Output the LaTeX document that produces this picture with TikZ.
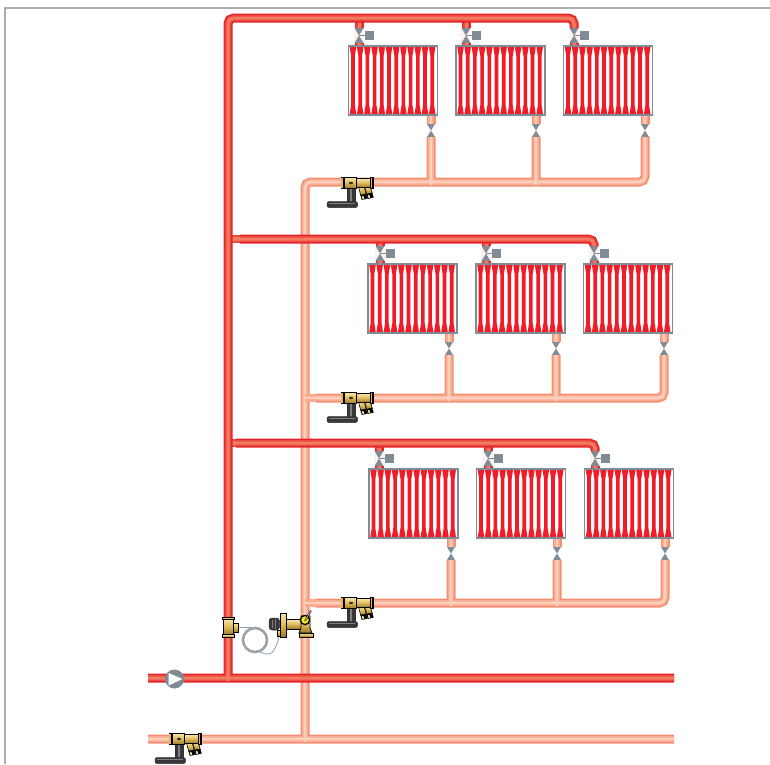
\documentclass[tikz,border=0pt]{standalone}
\usetikzlibrary{calc}
\definecolor{hotA}{HTML}{E5232B}
\definecolor{hotB}{HTML}{EC4A3E}
\definecolor{hotC}{HTML}{F27C62}
\definecolor{retA}{HTML}{F58D70}
\definecolor{retB}{HTML}{FAAC91}
\definecolor{retC}{HTML}{FDD0BD}
\definecolor{steel}{HTML}{7F8C96}
\definecolor{radred}{HTML}{F01C28}
\definecolor{radpink}{HTML}{FDE4E4}
\definecolor{brass}{HTML}{DDB85C}
\definecolor{brassD}{HTML}{9A7828}
\definecolor{brassL}{HTML}{F8E7A8}
\definecolor{inkdark}{HTML}{38383C}
\definecolor{framegray}{HTML}{ADADAD}
\tikzset{
  pipeshape/.style={line cap=butt,rounded corners=5.5pt},
  hotouter/.style={pipeshape,draw=hotA,line width=9pt},
  hotmid/.style={pipeshape,draw=hotB,line width=6pt},
  hotinner/.style={pipeshape,draw=hotC,line width=3pt},
  retouter/.style={pipeshape,draw=retA,line width=9pt},
  retmid/.style={pipeshape,draw=retB,line width=6pt},
  retinner/.style={pipeshape,draw=retC,line width=2.8pt},
  radbox/.style={draw=steel,line width=1.6pt,fill=white,inner sep=0pt,outer sep=0pt,minimum width=89pt,minimum height=69pt,anchor=north west},
  valvetri/.style={fill=steel,draw=none},
  brassbody/.style={top color=brassL,bottom color=brassD,middle color=brass,draw=black,line width=.8pt},
  darkbody/.style={fill=inkdark,draw=black!80,line width=.5pt},
  capillary/.style={draw=steel!85,line width=.8pt},
  framerule/.style={draw=framegray,line width=1.1pt},
}
\newcommand{\hotrun}[1]{\draw[hotouter] #1;\draw[hotmid] #1;\draw[hotinner] #1;}
\newcommand{\retrun}[1]{\draw[retouter] #1;\draw[retmid] #1;\draw[retinner] #1;}
% name, left, top, supply valve x, return valve x, supply y
\newcommand{\radiator}[6]{
  \coordinate (#1vt) at (#4,#3-18);
  \coordinate (#1vm) at (#4,#3-10.5);
  \coordinate (#1vb) at (#4,#3-3);
  \coordinate (#1st) at (#4,#6);
  \coordinate (#1ra) at (#5,#3+69);
  \coordinate (#1rb) at (#5,#3+78);
  \coordinate (#1rc) at (#5,#3+85);
  \coordinate (#1bt) at (#5,#3+91);
  \fill[red!6] (#4-5.2,#3-18) rectangle (#4+5.2,#3-2);
  \hotrun{(#1st) -- (#1vt)}
  \hotrun{(#1vb) -- (#4,#3)}
  \fill[valvetri] (#4-4.4,#3-18) -- (#4+4.4,#3-18) -- (#1vm) -- cycle;
  \fill[valvetri] (#4-4.4,#3-3) -- (#4+4.4,#3-3) -- (#1vm) -- cycle;
  \node[fill=steel,minimum size=9pt,inner sep=0pt,outer sep=0pt] (#1act) at (#4+10.5,#3-10.5) {};
  \draw[steel,line width=.9pt] (#1vm) -- (#1act);
  \retrun{(#1ra) -- (#1rb)}
  \fill[valvetri] (#5-4,#3+78) -- (#5+4,#3+78) -- (#5,#3+84.5) -- cycle;
  \fill[valvetri] (#5-4,#3+91) -- (#5+4,#3+91) -- (#5,#3+84.5) -- cycle;
  \node[radbox] (#1) at (#2,#3) {};
  \foreach \i in {0,...,11}{
    \pgfmathsetmacro{\cx}{#2+4.5+7.2*\i}
    \fill[radred] (\cx-3.2,#3+1) -- (\cx+3.2,#3+1) -- (\cx+2.8,#3+4) -- (\cx+1.8,#3+10)
      -- (\cx+1.8,#3+59) -- (\cx+2.8,#3+65) -- (\cx+3.2,#3+68) -- (\cx-3.2,#3+68)
      -- (\cx-2.8,#3+65) -- (\cx-1.8,#3+59) -- (\cx-1.8,#3+10) -- (\cx-2.8,#3+4) -- cycle;
  }
  \draw[steel,line width=1.6pt] (#2,#3) rectangle (#2+89,#3+69);
}
% balancing valve centred on a return pipe
\newcommand{\balvalve}[2]{
  \begin{scope}[shift={(#1,#2)}]
    \draw[darkbody] (-10,4) rectangle (-1.5,21);
    \fill[black!50] (-7.5,6) rectangle (-5,19);
    \draw[darkbody,rounded corners=2pt] (-30,18.5) rectangle (0.5,24.5);
    \fill[black!50] (-28,20) rectangle (-2,21.2);
    \foreach \dx/\dy in {1.5/4,7.5/3}{
      \draw[brassbody,line width=.6pt] (\dx,\dy) -- ++(5.5,-1) -- ++(2.2,8) -- ++(-5.5,1.3) -- cycle;
      \draw[fill=black,line width=.3pt] (\dx+2.2,\dy+8.3) -- ++(5.5,-1.3) -- ++(1.2,4.4) -- ++(-5.5,1.3) -- cycle;
      \fill[brassL] (\dx+3.4,\dy+9.3) -- ++(1.5,-.4) -- ++(.8,3) -- ++(-1.5,.4) -- cycle;
    }
    \draw[brassbody] (-1,-4.5) rectangle (13,4.5);
    \draw[brassbody] (-13,-5.5) rectangle (-0.5,5.5);
    \fill[black] (-16.5,-6) rectangle (-13,6);
    \fill[brass] (-15.7,-5) rectangle (-14.3,5);
    \fill[black] (12.5,-6) rectangle (16.5,6);
    \fill[brass] (13.8,-5) rectangle (15.3,5);
    \draw[black,line width=.9pt] (-1,-5.5) -- (-1,5.5);
    \fill[black!80] (-6,0) ellipse (2 and 1.3);
  \end{scope}
}
\begin{document}
\begin{tikzpicture}[x=1pt,y=-1pt]
\useasboundingbox (0,0) rectangle (770,764);
\coordinate (frameL) at (5,764);
\coordinate (frameC) at (5,8);
\coordinate (frameR) at (770,8);
\draw[framerule] (frameL) -- (frameC) -- (frameR);
% radiators
\radiator{aa}{348.5}{46}{359}{431}{18}
\radiator{ab}{456}{46}{466}{536}{18}
\radiator{ac}{563.5}{46}{574}{645}{28}
\radiator{ba}{368}{264}{380}{449}{239}
\radiator{bb}{476}{264}{486}{556}{239}
\radiator{bc}{583.5}{264}{594}{664}{246}
\radiator{ca}{369}{469}{379}{451}{443}
\radiator{cb}{476.5}{469}{488}{557}{443}
\radiator{cc}{584.5}{469}{595}{665}{451}
% key points
\coordinate (hotW) at (148,678);
\coordinate (hotE) at (674,678);
\coordinate (retW) at (148,739);
\coordinate (retE) at (674,739);
\coordinate (hotfoot) at (228,681);
\coordinate (hottop) at (228,18);
\coordinate (rtop) at (305,182);
\coordinate (rfoot) at (305,742);
\coordinate (rtwo) at (316,398);
\coordinate (rtwoJ) at (305,398);
\coordinate (rthree) at (316,603);
\coordinate (rthreeJ) at (305,603);
\coordinate (htwo) at (240,239);
\coordinate (htwoJ) at (228,239);
\coordinate (hthree) at (236,443);
\coordinate (hthreeJ) at (228,443);
% return network
\retrun{(retW) -- (retE)
  (rfoot) -- (rtop) -- (acbt |- rtop) -- (acbt)
  (aabt) -- ($(aabt |- rtop)+(0,3)$)
  (abbt) -- ($(abbt |- rtop)+(0,3)$)
  (rtwo) -- (bcbt |- rtwo) -- (bcbt)
  (babt) -- ($(babt |- rtwo)+(0,3)$)
  (bbbt) -- ($(bbbt |- rtwo)+(0,3)$)
  (rthree) -- (ccbt |- rthree) -- (ccbt)
  (cabt) -- ($(cabt |- rthree)+(0,3)$)
  (cbbt) -- ($(cbbt |- rthree)+(0,3)$)}
\draw[retmid,line width=8pt] (rtwoJ) -- (rtwo);
\draw[retinner] (rtwoJ) -- (rtwo);
\draw[retmid,line width=8pt] (rthreeJ) -- (rthree);
\draw[retinner] (rthreeJ) -- (rthree);
% supply network
\draw[hotmid,line width=7.5pt] (htwoJ) -- (htwo);
\draw[hotinner,line width=4pt] (htwoJ) -- (htwo);
\draw[hotmid,line width=7.5pt] (hthreeJ) -- (hthree);
\draw[hotinner,line width=4pt] (hthreeJ) -- (hthree);
\hotrun{(hotW) -- (hotE)
  (hotfoot) -- (hottop) -- (acst |- hottop) -- (acst)
  (htwo) -- (bcst |- htwo) -- (bcst)
  (hthree) -- (ccst |- hthree) -- (ccst)}
% pump
\node[circle,fill=steel,minimum size=19pt,inner sep=0pt] (pump) at (174.5,679) {};
\fill[white] (168.5,673) -- (168.5,685.5) -- (182.5,679) -- cycle;
% balancing valves
\balvalve{357}{183}
\balvalve{357}{398}
\balvalve{357}{603}
\balvalve{185}{739}
% capillary and coil
\coordinate (sensor) at (238,627);
\coordinate (coilin) at (256,627);
\coordinate (coilout) at (279,637);
\coordinate (coilend) at (260,652);
\draw[capillary] (sensor) -- (coilin);
\draw[steel!80,line width=2.6pt] (255,640) circle (12);
\draw[capillary] (coilend) .. controls (266,655) and (272,655) .. (274,650) .. controls (276,646) and (278,642) .. (coilout);
% sensor tee on the supply riser
\draw[brassbody] (233,623) rectangle (238,632);
\draw[brassbody] (223.5,619) rectangle (233.5,635);
\draw[brassbody] (222.5,617) rectangle (234.5,619.5);
\draw[brassbody] (222.5,634.5) rectangle (234.5,637);
% control valve on the return riser
\draw[brassbody] (277,630) rectangle (283,636.5);
\draw[darkbody,rounded corners=3pt] (269,618) rectangle (279.5,630);
\draw[black!50,line width=.7pt] (272,620) -- (272,628) (275,619) -- (275,629);
\draw[brassbody] (286,619.5) rectangle (301,629);
\draw[brassbody] (280,613) rectangle (286,637);
\draw[brassbody] (301,616) -- (310,616) -- (310,628) -- (312,633) -- (299,633) -- (301,628) -- cycle;
\draw[brassbody] (299,633) rectangle (313,637);
\draw[black,line width=1.3pt,fill=yellow!75!brass] (305,620) circle (4.6);
\draw[black,line width=1.6pt] (305,621) -- (311,610.5);
\draw[white,line width=.5pt] (305,621) -- (311,610.5);
\end{tikzpicture}
\end{document}
